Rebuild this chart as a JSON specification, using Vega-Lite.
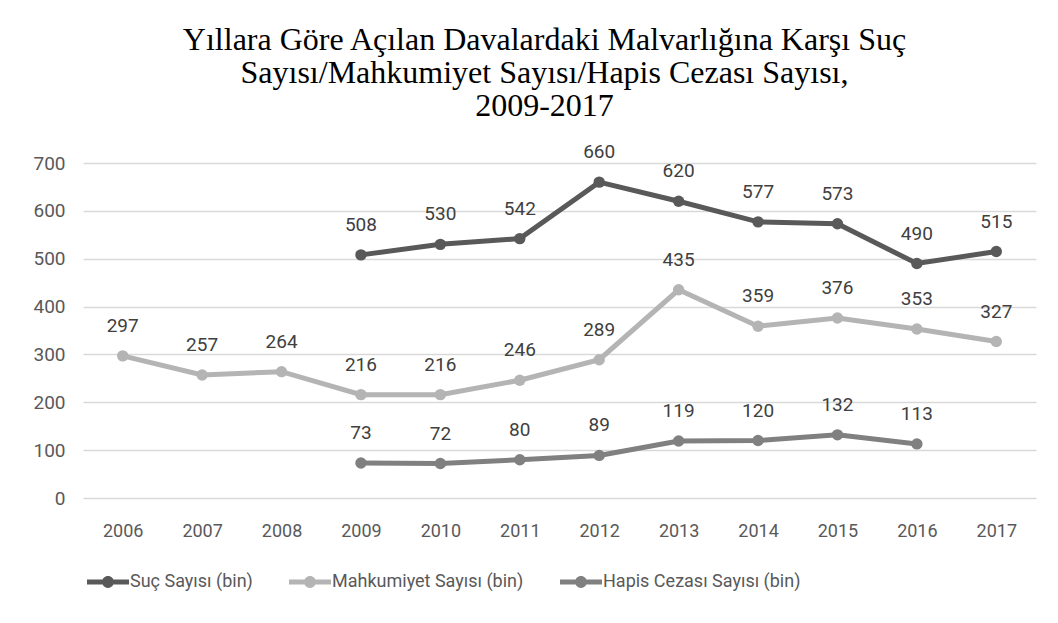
{
  "$schema": "https://vega.github.io/schema/vega-lite/v6.json",
  "width": 953,
  "height": 335,
  "autosize": {"type": "none"},
  "padding": {"left": 83, "top": 163, "right": 22, "bottom": 125},
  "background": "white",
  "title": {
    "text": ["Yıllara Göre Açılan Davalardaki Malvarlığına Karşı Suç", "Sayısı/Mahkumiyet Sayısı/Hapis Cezası Sayısı,", "2009-2017"],
    "font": "Liberation Serif",
    "fontSize": 32,
    "fontWeight": "normal",
    "color": "#000000",
    "lineHeight": 33,
    "anchor": "middle",
    "offset": 20,
    "dx": -15
  },
  "data": {
    "values": [
      {"year": "2009", "series": "Suç Sayısı (bin)", "value": 508},
      {"year": "2010", "series": "Suç Sayısı (bin)", "value": 530},
      {"year": "2011", "series": "Suç Sayısı (bin)", "value": 542},
      {"year": "2012", "series": "Suç Sayısı (bin)", "value": 660},
      {"year": "2013", "series": "Suç Sayısı (bin)", "value": 620},
      {"year": "2014", "series": "Suç Sayısı (bin)", "value": 577},
      {"year": "2015", "series": "Suç Sayısı (bin)", "value": 573},
      {"year": "2016", "series": "Suç Sayısı (bin)", "value": 490},
      {"year": "2017", "series": "Suç Sayısı (bin)", "value": 515},
      {"year": "2006", "series": "Mahkumiyet Sayısı (bin)", "value": 297},
      {"year": "2007", "series": "Mahkumiyet Sayısı (bin)", "value": 257},
      {"year": "2008", "series": "Mahkumiyet Sayısı (bin)", "value": 264},
      {"year": "2009", "series": "Mahkumiyet Sayısı (bin)", "value": 216},
      {"year": "2010", "series": "Mahkumiyet Sayısı (bin)", "value": 216},
      {"year": "2011", "series": "Mahkumiyet Sayısı (bin)", "value": 246},
      {"year": "2012", "series": "Mahkumiyet Sayısı (bin)", "value": 289},
      {"year": "2013", "series": "Mahkumiyet Sayısı (bin)", "value": 435},
      {"year": "2014", "series": "Mahkumiyet Sayısı (bin)", "value": 359},
      {"year": "2015", "series": "Mahkumiyet Sayısı (bin)", "value": 376},
      {"year": "2016", "series": "Mahkumiyet Sayısı (bin)", "value": 353},
      {"year": "2017", "series": "Mahkumiyet Sayısı (bin)", "value": 327},
      {"year": "2009", "series": "Hapis Cezası Sayısı (bin)", "value": 73},
      {"year": "2010", "series": "Hapis Cezası Sayısı (bin)", "value": 72},
      {"year": "2011", "series": "Hapis Cezası Sayısı (bin)", "value": 80},
      {"year": "2012", "series": "Hapis Cezası Sayısı (bin)", "value": 89},
      {"year": "2013", "series": "Hapis Cezası Sayısı (bin)", "value": 119},
      {"year": "2014", "series": "Hapis Cezası Sayısı (bin)", "value": 120},
      {"year": "2015", "series": "Hapis Cezası Sayısı (bin)", "value": 132},
      {"year": "2016", "series": "Hapis Cezası Sayısı (bin)", "value": 113}
    ]
  },
  "encoding": {
    "x": {
      "field": "year",
      "type": "ordinal",
      "sort": null,
      "scale": {"domain": ["2006","2007","2008","2009","2010","2011","2012","2013","2014","2015","2016","2017"]},
      "axis": {
        "title": null,
        "labelAngle": 0,
        "domain": false,
        "ticks": false,
        "labelPadding": 24,
        "labelFont": "Roboto",
        "labelFontSize": 18,
        "labelColor": "#595959"
      }
    },
    "y": {
      "field": "value",
      "type": "quantitative",
      "scale": {"domain": [0, 700], "nice": false},
      "axis": {
        "title": null,
        "values": [0,100,200,300,400,500,600,700],
        "domain": false,
        "ticks": false,
        "labelPadding": 18,
        "labelFont": "Roboto",
        "labelFontSize": 19,
        "labelColor": "#595959",
        "gridColor": "#d9d9d9",
        "gridWidth": 1.5
      }
    },
    "color": {
      "field": "series",
      "type": "nominal",
      "scale": {
        "domain": ["Suç Sayısı (bin)", "Mahkumiyet Sayısı (bin)", "Hapis Cezası Sayısı (bin)"],
        "range": ["#595959", "#b4b4b4", "#808080"]
      },
      "legend": {
        "title": null,
        "orient": "none",
        "direction": "horizontal",
        "legendX": 4,
        "legendY": 398,
        "symbolType": "M-1,-0.12L1,-0.12L1,0.12L-1,0.12Z M-0.28,0A0.28,0.28 0 1,1 0.28,0A0.28,0.28 0 1,1 -0.28,0Z",
        "symbolSize": 1764,
        "symbolStrokeWidth": 0,
        "labelFont": "Roboto",
        "labelFontSize": 18,
        "labelColor": "#595959",
        "labelOffset": 1,
        "columnPadding": 36,
        "labelLimit": 400
      }
    }
  },
  "layer": [
    {"mark": {"type": "line", "strokeWidth": 5}},
    {"mark": {"type": "point", "filled": true, "size": 130, "opacity": 1}},
    {
      "mark": {"type": "text", "dy": -24, "baseline": "alphabetic", "font": "Roboto", "fontSize": 19, "color": "#404040"},
      "encoding": {"text": {"field": "value", "type": "quantitative"}, "color": {"value": "#404040"}}
    }
  ],
  "config": {"view": {"stroke": null}}
}
